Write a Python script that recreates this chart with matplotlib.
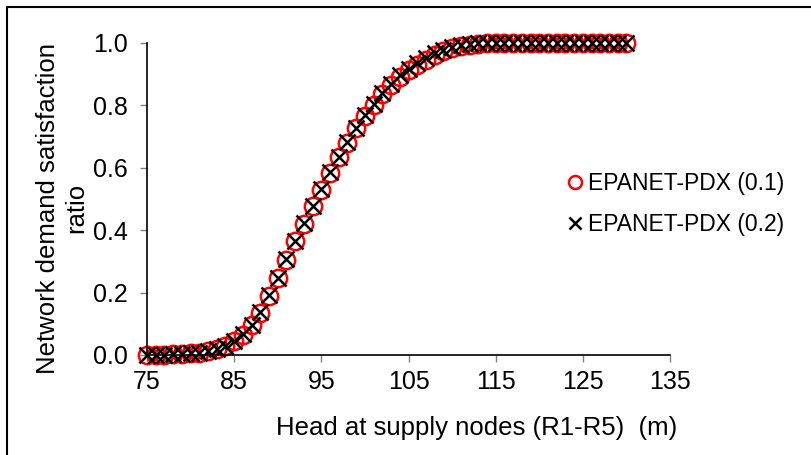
import numpy as np
import matplotlib
matplotlib.use("Agg")
import matplotlib.pyplot as plt
from matplotlib.patches import Rectangle

plt.rcParams['font.family'] = ['Liberation Sans', 'DejaVu Sans']

# head at supply nodes (m)
head = list(range(75, 131))

# demand satisfaction ratio
ratio_01 = [0.000, 0.000, 0.001, 0.002, 0.003, 0.005, 0.008, 0.012, 0.018, 0.028,
            0.045, 0.065, 0.096, 0.136, 0.190, 0.246, 0.305, 0.364, 0.420, 0.476,
            0.530, 0.583, 0.634, 0.681, 0.727, 0.766, 0.802, 0.836, 0.865, 0.891,
            0.912, 0.931, 0.947, 0.961, 0.973, 0.983, 0.990, 0.995, 0.998, 1.000,
            1.000, 1.000, 1.000, 1.000, 1.000, 1.000, 1.000, 1.000, 1.000, 1.000,
            1.000, 1.000, 1.000, 1.000, 1.000, 1.000]
ratio_02 = [0.000, 0.000, 0.001, 0.002, 0.003, 0.005, 0.008, 0.012, 0.018, 0.029,
            0.046, 0.066, 0.097, 0.138, 0.192, 0.248, 0.307, 0.366, 0.422, 0.478,
            0.532, 0.585, 0.636, 0.683, 0.729, 0.769, 0.806, 0.840, 0.870, 0.896,
            0.918, 0.937, 0.953, 0.967, 0.978, 0.987, 0.993, 0.997, 0.999, 1.000,
            1.000, 1.000, 1.000, 1.000, 1.000, 1.000, 1.000, 1.000, 1.000, 1.000,
            1.000, 1.000, 1.000, 1.000, 1.000, 1.000]

W, H = 811, 455
fig = plt.figure(figsize=(W/100, H/100), dpi=100)
ax = fig.add_axes([147/W, 1-355/H, (670-147)/W, (355-43)/H])

ax.plot(head, ratio_01, linestyle='none', marker='o', markersize=12.5,
        markerfacecolor='none', markeredgecolor='#ff0000', markeredgewidth=1.8,
        label='EPANET-PDX (0.1)', clip_on=False)
ax.plot(head, ratio_02, linestyle='none', marker='x', markersize=11.5,
        color='black', markeredgewidth=1.8,
        label='EPANET-PDX (0.2)', clip_on=False)

ax.set_xlim(75, 135)
ax.set_ylim(0, 1.0)
ax.set_xticks([75, 85, 95, 105, 115, 125, 135])
ax.set_yticks([0.0, 0.2, 0.4, 0.6, 0.8, 1.0])
ax.set_yticklabels(['0.0', '0.2', '0.4', '0.6', '0.8', '1.0'])
ax.tick_params(labelsize=18, length=5, width=1, color='#808080')
ax.tick_params(axis='y', pad=9)
ax.tick_params(axis='x', pad=6)
for s in ['top', 'right']:
    ax.spines[s].set_visible(False)
for s in ['left', 'bottom']:
    ax.spines[s].set_linewidth(1.2)

fig.text(477/W, 1-428/H, 'Head at supply nodes (R1-R5)  (m)', fontsize=18.5,
         ha='center', va='center')
fig.text(62/W, 1-208/H, 'Network demand satisfaction\nratio', fontsize=18.5,
         rotation=90, ha='center', va='center', multialignment='center',
         linespacing=1.25)

ax.legend(loc='center left', bbox_to_anchor=(560/W, 1-204/H),
          bbox_transform=fig.transFigure, frameon=False, fontsize=16.5,
          handlelength=0.55, handletextpad=0.25, markerscale=0.75,
          labelspacing=0.75, borderaxespad=0)

# outer frame (top and left edges visible)
fig.patches.append(Rectangle((7/W, -0.1), 1.2, 1-7/H+0.1, transform=fig.transFigure,
                             fill=False, edgecolor='black', linewidth=1.5))

fig.savefig('out.png', dpi=100)
